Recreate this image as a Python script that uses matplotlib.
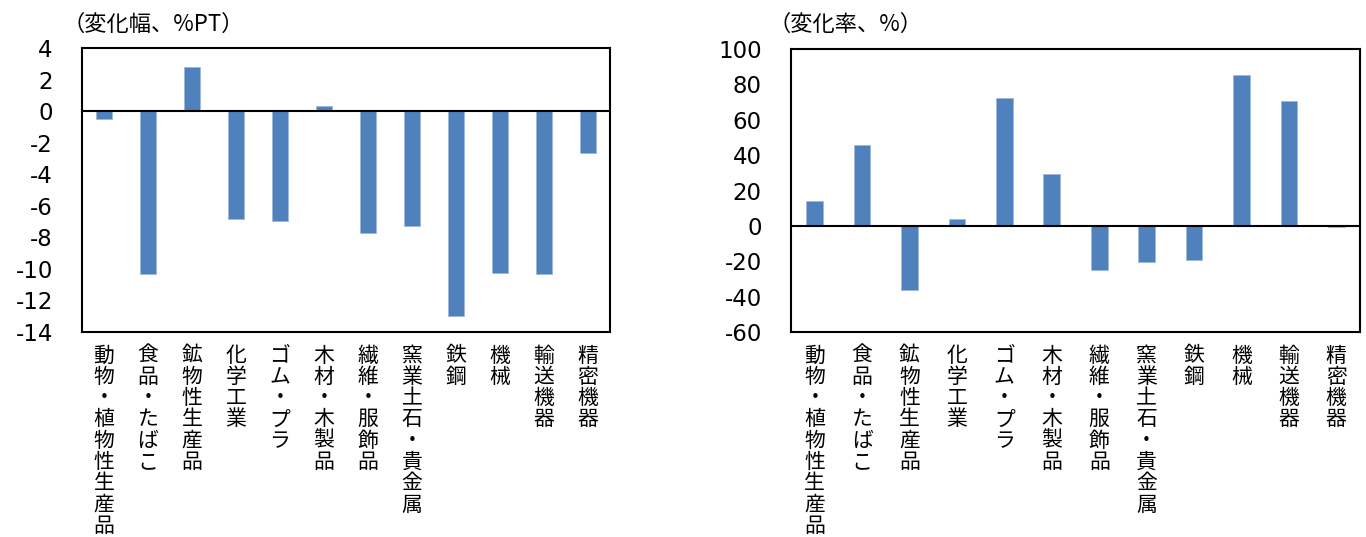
import matplotlib
matplotlib.use("Agg")
import matplotlib.pyplot as plt

plt.rcParams['font.family'] = ['Noto Sans CJK JP', 'DejaVu Sans']

categories = ["動物・植物性生産品", "食品・たばこ", "鉱物性生産品", "化学工業", "ゴム・プラ",
              "木材・木製品", "繊維・服飾品", "窯業土石・貴金属", "鉄鋼", "機械", "輸送機器", "精密機器"]
change_pt = [-0.5, -10.3, 2.8, -6.85, -6.95, 0.35, -7.75, -7.25, -13.0, -10.25, -10.35, -2.65]
change_pct = [14.3, 46.0, -36.3, 4.1, 72.4, 29.2, -24.8, -20.3, -19.2, 85.5, 70.7, -0.6]
left_title = "（変化幅、%PT）"
right_title = "（変化率、%）"
left_ticks = list(range(-14, 5, 2))
right_ticks = list(range(-60, 101, 20))

BLUE = "#4F81BD"
W, H = 1366, 537
fig = plt.figure(figsize=(W / 100, H / 100), dpi=100)

def vert(s):
    return "\n".join(list(s))

def panel(rect, values, ticks, ylim):
    ax = fig.add_axes(rect)
    x = list(range(len(categories)))
    ax.bar(x, values, width=0.35, color=BLUE, edgecolor="#9DB8DC", linewidth=0.6, zorder=2)
    ax.axhline(0, color="black", linewidth=1.5, zorder=3)
    ax.set_xlim(-0.5, len(categories) - 0.5)
    ax.set_ylim(*ylim)
    ax.set_yticks(ticks)
    ax.set_yticklabels([str(t) for t in ticks], fontsize=16.5, family="DejaVu Sans")
    ax.set_xticks(x)
    ax.set_xticklabels([vert(c) for c in categories], fontsize=15, linespacing=0.96, va="top")
    ax.tick_params(axis="y", length=0, pad=21)
    ax.tick_params(axis="x", length=0, pad=9)
    for sp in ax.spines.values():
        sp.set_linewidth(1.5)
        sp.set_color("black")
    return ax

ax1 = panel([82 / W, (H - 332) / H, 528 / W, 284 / H], change_pt, left_ticks, (-14, 4))
ax2 = panel([791 / W, (H - 332) / H, 569 / W, 283 / H], change_pct, right_ticks, (-60, 100))

fig.text(62 / W, 1 - 24 / H, left_title, fontsize=16, va="center", ha="left")
fig.text(768 / W, 1 - 24 / H, right_title, fontsize=16, va="center", ha="left")

fig.savefig("out.png", dpi=100)
